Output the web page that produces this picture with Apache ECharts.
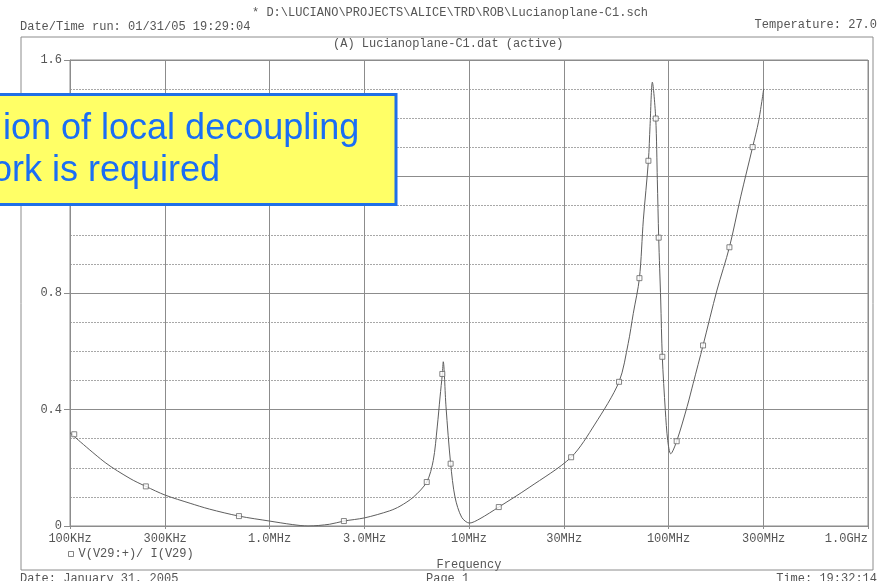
<!DOCTYPE html>
<html>
<head>
<meta charset="utf-8">
<script src="https://cdn.jsdelivr.net/npm/echarts@6/dist/echarts.min.js"></script>
<style>
html,body{margin:0;padding:0;background:#fff;}
#chart{width:878px;height:581px;}
</style>
</head>
<body>
<div id="chart"></div>
<script>
// Frequency sweep (Hz) and impedance magnitude
var freqHz = [1.0e5, 1.5e5, 2.0e5, 2.4e5, 3.0e5, 4.0e5, 5.0e5, 7.03e5, 1.0e6, 1.3e6, 1.56e6, 2.0e6, 2.36e6, 3.0e6, 4.0e6, 4.51e6, 5.26e6, 6.14e6, 6.62e6, 6.93e6, 7.16e6, 7.35e6, 7.43e6, 7.67e6, 8.09e6, 8.51e6, 9.19e6, 1.005e7, 1.135e7, 1.41e7, 2.0e7, 3.25e7, 4.28e7, 5.65e7, 6.28e7, 6.66e7, 7.15e7, 7.48e7, 7.93e7, 8.08e7, 8.30e7, 8.63e7, 8.79e7, 8.93e7, 9.14e7, 9.31e7, 9.64e7, 9.91e7, 1.026e8, 1.099e8, 1.24e8, 1.33e8, 1.49e8, 1.75e8, 2.02e8, 2.30e8, 2.64e8, 2.83e8, 3.0e8];
var impedance = [0.320, 0.218, 0.163, 0.136, 0.106, 0.078, 0.058, 0.034, 0.017, 0.005, 0.000, 0.006, 0.017, 0.028, 0.052, 0.068, 0.099, 0.151, 0.225, 0.340, 0.443, 0.522, 0.564, 0.409, 0.214, 0.099, 0.030, 0.010, 0.025, 0.065, 0.132, 0.236, 0.350, 0.495, 0.627, 0.730, 0.851, 1.051, 1.254, 1.372, 1.524, 1.399, 1.189, 0.990, 0.776, 0.581, 0.397, 0.294, 0.248, 0.291, 0.410, 0.490, 0.620, 0.810, 0.957, 1.130, 1.301, 1.390, 1.501];
// Positions of the square trace markers
var markerFreq = [1.05e5, 2.4e5, 7.03e5, 2.36e6, 6.14e6, 7.35e6, 8.09e6, 1.41e7, 3.25e7, 5.65e7, 7.15e7, 7.93e7, 8.63e7, 8.93e7, 9.31e7, 1.099e8, 1.49e8, 2.02e8, 2.64e8];
var markerVal = [0.315, 0.136, 0.034, 0.017, 0.151, 0.522, 0.214, 0.065, 0.236, 0.495, 0.851, 1.254, 1.399, 0.990, 0.581, 0.291, 0.620, 0.957, 1.301];
// Axis ticks
var xTickValues = [1e5, 3e5, 1e6, 3e6, 1e7, 3e7, 1e8, 3e8, 1e9];
var xTickLabels = ['100KHz', '300KHz', '1.0MHz', '3.0MHz', '10MHz', '30MHz', '100MHz', '300MHz', '1.0GHz'];
var seriesName = 'V(V29:+)/ I(V29)';

var MONO = '"Liberation Mono", "DejaVu Sans Mono", monospace';
var TXT = '#555';
var LINE = '#8c8c8c';

function zip(a, b) { var r = []; for (var i = 0; i < a.length; i++) r.push([a[i], b[i]]); return r; }
function xLabel(v) {
  for (var i = 0; i < xTickValues.length; i++) {
    if (Math.abs(Math.log10(v) - Math.log10(xTickValues[i])) < 1e-6) return xTickLabels[i];
  }
  return '';
}

var chart = echarts.init(document.getElementById('chart'), null, {renderer: 'canvas'});
var option = {
  backgroundColor: '#fff',
  animation: false,
  grid: {left: 70, right: 10, top: 60, bottom: 55, show: true, borderColor: LINE, borderWidth: 1, backgroundColor: 'transparent'},
  legend: {
    data: [seriesName], left: 63, top: 543, icon: 'rect', itemWidth: 5, itemHeight: 5, itemGap: 4,
    itemStyle: {color: '#fff', borderColor: '#666', borderWidth: 1},
    textStyle: {fontFamily: MONO, fontSize: 12, color: TXT}, selectedMode: false
  },
  xAxis: {
    type: 'log', logBase: 10, min: 1e5, max: 1e9,
    name: 'Frequency', nameLocation: 'middle', nameGap: 33,
    nameTextStyle: {fontFamily: MONO, fontSize: 12, color: TXT},
    axisLine: {show: true, lineStyle: {color: LINE, width: 1}},
    axisTick: {show: true, length: 3, customValues: xTickValues, lineStyle: {color: LINE}},
    axisLabel: {customValues: xTickValues, formatter: xLabel, fontFamily: MONO, fontSize: 12, color: TXT, margin: 7, alignMaxLabel: 'right'},
    splitLine: {show: true, lineStyle: {color: LINE, width: 1, type: 'solid'}},
    minorTick: {show: false}, minorSplitLine: {show: false}
  },
  yAxis: {
    type: 'value', min: 0, max: 1.6, interval: 0.4,
    axisLine: {show: true, lineStyle: {color: LINE, width: 1}},
    axisTick: {show: true, length: 6, lineStyle: {color: LINE}},
    axisLabel: {fontFamily: MONO, fontSize: 12, color: TXT, margin: 8,
      formatter: function (v) { return v === 0 ? '0' : v.toFixed(1); }},
    splitLine: {show: true, lineStyle: {color: LINE, width: 1}},
    minorTick: {show: false, splitNumber: 4},
    minorSplitLine: {show: true, lineStyle: {color: '#a8a8a8', width: 1, type: [2, 1]}}
  },
  series: [
    {
      name: 'trace', type: 'line', data: zip(freqHz, impedance), showSymbol: false, symbol: 'none',
      smooth: 0.3,
      lineStyle: {color: '#5e5e5e', width: 1}, z: 3
    },
    {
      name: seriesName, type: 'scatter', data: zip(markerFreq, markerVal), symbol: 'rect', symbolSize: 5,
      itemStyle: {color: '#fff', borderColor: '#666', borderWidth: 1}, z: 4
    }
  ],
  graphic: [
    {type: 'rect', shape: {x: 21, y: 37, width: 852, height: 533}, style: {fill: 'none', stroke: LINE, lineWidth: 1}, z: 1, silent: true},
    {type: 'text', style: {text: '* D:\\LUCIANO\\PROJECTS\\ALICE\\TRD\\ROB\\Lucianoplane-C1.sch', x: 252, y: 13, font: '12px ' + MONO, fill: TXT, verticalAlign: 'middle'}},
    {type: 'text', style: {text: 'Date/Time run: 01/31/05 19:29:04', x: 20, y: 27, font: '12px ' + MONO, fill: TXT, verticalAlign: 'middle'}},
    {type: 'text', style: {text: 'Temperature: 27.0', x: 877, y: 25, font: '12px ' + MONO, fill: TXT, align: 'right', verticalAlign: 'middle'}},
    {type: 'text', style: {text: '(A) Lucianoplane-C1.dat (active)', x: 333, y: 44, font: '12px ' + MONO, fill: TXT, verticalAlign: 'middle'}},
    {type: 'text', style: {text: 'Date: January 31, 2005', x: 20, y: 579, font: '12px ' + MONO, fill: TXT, verticalAlign: 'middle'}},
    {type: 'text', style: {text: 'Page 1', x: 426, y: 579, font: '12px ' + MONO, fill: TXT, verticalAlign: 'middle'}},
    {type: 'text', style: {text: 'Time: 19:32:14', x: 877, y: 579, font: '12px ' + MONO, fill: TXT, align: 'right', verticalAlign: 'middle'}},
    {type: 'rect', shape: {x: -10, y: 94.5, width: 406, height: 110}, style: {fill: '#ffff66', stroke: '#1f6fe8', lineWidth: 3}, z: 100},
    {type: 'text', style: {text: 'ion of local decoupling', x: 3, y: 129, font: '36px "Liberation Sans", Arial, sans-serif', fill: '#1a6ef5', verticalAlign: 'middle'}, z: 101},
    {type: 'text', style: {text: 'ork is required', x: -8, y: 171, font: '36px "Liberation Sans", Arial, sans-serif', fill: '#1a6ef5', verticalAlign: 'middle'}, z: 101}
  ]
};
chart.setOption(option);
</script>
</body>
</html>
